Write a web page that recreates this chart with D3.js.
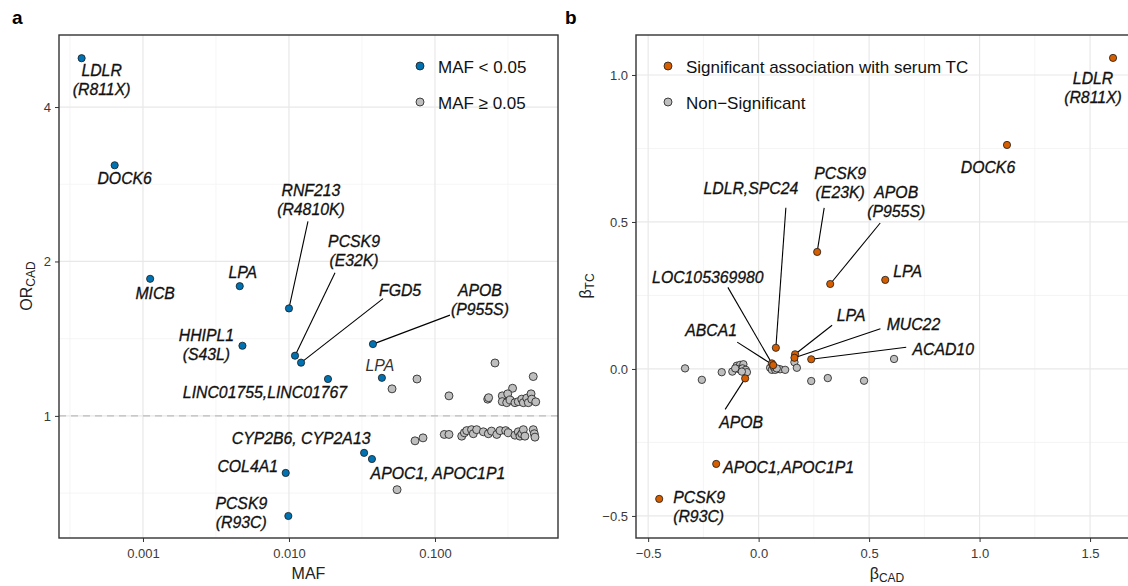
<!DOCTYPE html>
<html>
<head>
<meta charset="utf-8">
<script src="https://cdn.jsdelivr.net/npm/d3@7"></script>
<style>
  body { margin: 0; background: #fff; }
  svg { display: block; font-family: "Liberation Sans", Arial, Helvetica, sans-serif; }
  .tick line { stroke: #333; }
  .lab { font-style: italic; font-size: 15.8px; fill: #111; stroke: #111; stroke-width: 0.3px; }
</style>
</head>
<body>
<svg id="chart" width="1128" height="586"></svg>
<script>
// ---- panel a : MAF vs OR(CAD)
const labelsBlue = [["LDLR","(R811X)"],["DOCK6"],["MICB"],["LPA"],["RNF213","(R4810K)"],["HHIPL1","(S43L)"],
  ["PCSK9","(E32K)"],["FGD5"],["LINC01755,LINC01767"],["APOB","(P955S)"],["LPA"],["CYP2B6, CYP2A13"],
  ["APOC1, APOC1P1"],["COL4A1"],["PCSK9","(R93C)"]];
const mafBlue = [0.00038, 0.00064, 0.00112, 0.0046, 0.0100, 0.0048, 0.0110, 0.0121, 0.0185, 0.0376, 0.0433, 0.0327, 0.0370, 0.0095, 0.0099];
const orBlue = [4.98, 3.08, 1.85, 1.79, 1.62, 1.37, 1.31, 1.27, 1.18, 1.38, 1.186, 0.847, 0.824, 0.774, 0.638];

const mafGray = [0.0753, 0.0508, 0.1247, 0.2576, 0.471, 0.340, 0.2297, 0.233, 0.289, 0.315, 0.289, 0.310, 0.327, 0.353, 0.372,
  0.393, 0.403, 0.425, 0.436, 0.455, 0.460, 0.490,
  0.055, 0.0730, 0.0828, 0.1158, 0.1247, 0.1525, 0.159, 0.165, 0.178, 0.183, 0.193, 0.2144, 0.232, 0.244, 0.265, 0.279,
  0.305, 0.318, 0.353, 0.372, 0.382, 0.393, 0.403, 0.413, 0.471, 0.479, 0.484];
const orGray = [1.180, 1.129, 1.094, 1.268, 1.193, 1.132, 1.078, 1.085, 1.094, 1.104, 1.066, 1.061, 1.074, 1.061, 1.066,
  1.078, 1.061, 1.083, 1.061, 1.104, 1.078, 1.065,
  0.718, 0.894, 0.906, 0.920, 0.920, 0.913, 0.927, 0.936, 0.940, 0.923, 0.940, 0.931, 0.923, 0.934, 0.920, 0.936,
  0.936, 0.927, 0.917, 0.931, 0.913, 0.923, 0.940, 0.913, 0.940, 0.923, 0.909];

const mafTicks = [0.001, 0.01, 0.1], mafTickLabels = ["0.001", "0.010", "0.100"];
const mafMinor = [0.000316, 0.00316, 0.0316, 0.316];
const orTicks = [1, 2, 4], orTickLabels = ["1", "2", "4"];
const orMinor = [0.707, 1.414, 2.828];

// ---- panel b : beta CAD vs beta TC
const labelsSig = [["LDLR","(R811X)"],["DOCK6"],["LPA"],["PCSK9","(E23K)"],["APOB","(P955S)"],["LDLR,SPC24"],
  ["LOC105369980"],["ABCA1"],["LPA"],["MUC22"],["ACAD10"],["APOB"],["APOC1,APOC1P1"],["PCSK9","(R93C)"]];
const cadSig = [1.604, 1.124, 0.573, 0.265, 0.324, 0.078, 0.060, 0.066, 0.165, 0.162, 0.238, -0.061, -0.192, -0.450];
const tcSig = [1.058, 0.762, 0.303, 0.398, 0.289, 0.072, 0.019, 0.013, 0.050, 0.038, 0.033, -0.032, -0.323, -0.442];

const cadNS = [-0.333, -0.257, -0.167, -0.119, -0.099, -0.084, -0.069, -0.091, -0.073, -0.058, -0.053, -0.076, -0.106,
  0.052, 0.060, 0.075, 0.097, 0.120, 0.067, 0.082, 0.162, 0.173, 0.238, 0.313, 0.477, 0.613];
const tcNS = [0.002, -0.037, -0.011, -0.009, 0.011, 0.014, 0.016, 0.000, 0.002, -0.003, -0.011, -0.009, 0.002,
  0.004, -0.003, -0.003, -0.001, -0.003, 0.008, 0.002, 0.023, 0.004, -0.041, -0.031, -0.040, 0.034];

const cadTicks = [-0.5, 0, 0.5, 1, 1.5], cadTickLabels = ["\u22120.5", "0.0", "0.5", "1.0", "1.5"];
const cadMinor = [-0.25, 0.25, 0.75, 1.25];
const tcTicks = [-0.5, 0, 0.5, 1], tcTickLabels = ["\u22120.5", "0.0", "0.5", "1.0"];
const tcMinor = [-0.25, 0.25, 0.75];

// label placement (pixel offsets from the point, like ggrepel output)
const layoutA = [
  {dx: 20, dy: 18}, {dx: 10, dy: 19}, {dx: 5, dy: 20}, {dx: 3, dy: -8},
  {dx: 22, dy: -112, sx: 19, sy: -87}, {dx: -36, dy: -5},
  {dx: 59, dy: -109, sx: 40, sy: -83}, {dx: 99, dy: -67, sx: 82, sy: -64},
  {dx: -63, dy: 19}, {dx: 107, dy: -48, sx: 77, sy: -29}, {dx: -2, dy: -7, light: true},
  {dx: -63, dy: -9}, {dx: 66, dy: 20}, {dx: -38, dy: -1}, {dx: -47, dy: -7}
];
const layoutB = [
  {dx: -20, dy: 26}, {dx: -19, dy: 28}, {dx: 8, dy: -3, anchor: "start"},
  {dx: 23, dy: -73, sx: 7, sy: -44}, {dx: 66, dy: -86, sx: 50, sy: -61},
  {dx: -25, dy: -154, sx: 10, sy: -140}, {dx: -64, dy: -80, sx: -44, sy: -76},
  {dx: -62, dy: -29, sx: -36, sy: -23}, {dx: 56, dy: -33, sx: 37, sy: -29},
  {dx: 119, dy: -28, sx: 86, sy: -29}, {dx: 132, dy: -4, sx: 95, sy: -12},
  {dx: -4, dy: 50, sx: -20, sy: 31}, {dx: 7, dy: 9, anchor: "start"}, {dx: 14, dy: 4, anchor: "start"}
];

const BLUE = "#0072B2", ORANGE = "#D55E00", GREY = "#BEBEBE";
const svg = d3.select("#chart");

function panel(o) {
  const g = svg.append("g");
  const [x0, x1] = o.x.range(), [y0, y1] = o.y.range();
  // grid
  g.selectAll(".gxm").data(o.xMinor).join("line").attr("x1", d => o.x(d)).attr("x2", d => o.x(d))
    .attr("y1", y1).attr("y2", y0).attr("stroke", "#f0f0f0").attr("stroke-width", 0.7);
  g.selectAll(".gym").data(o.yMinor).join("line").attr("y1", d => o.y(d)).attr("y2", d => o.y(d))
    .attr("x1", x0).attr("x2", x1).attr("stroke", "#f0f0f0").attr("stroke-width", 0.7);
  g.selectAll(".gx").data(o.xTicks).join("line").attr("x1", d => o.x(d)).attr("x2", d => o.x(d))
    .attr("y1", y1).attr("y2", y0).attr("stroke", "#e8e8e8").attr("stroke-width", 1.2);
  g.selectAll(".gy").data(o.yTicks).join("line").attr("y1", d => o.y(d)).attr("y2", d => o.y(d))
    .attr("x1", x0).attr("x2", x1).attr("stroke", "#e8e8e8").attr("stroke-width", 1.2);
  if (o.hline != null) {
    g.append("line").attr("x1", x0).attr("x2", x1).attr("y1", o.y(o.hline)).attr("y2", o.y(o.hline))
      .attr("stroke", "#bdbdbd").attr("stroke-width", 1.3).attr("stroke-dasharray", "7,5");
  }
  // axes
  const ax = g.append("g").attr("transform", `translate(0,${y0})`)
    .call(d3.axisBottom(o.x).tickValues(o.xTicks).tickFormat((d, i) => o.xLabels[i]).tickSize(4).tickPadding(4));
  const ay = g.append("g").attr("transform", `translate(${x0},0)`)
    .call(d3.axisLeft(o.y).tickValues(o.yTicks).tickFormat((d, i) => o.yLabels[i]).tickSize(4).tickPadding(4));
  ax.select(".domain").remove(); ay.select(".domain").remove();
  ax.selectAll("text").attr("dy", "0.95em");
  [ax, ay].forEach(a => a.attr("font-family", null).attr("font-size", 13)
    .selectAll(".tick text").attr("fill", "#3a3a3a"));
  return g;
}

function drawPoints(g, x, y, xs, ys, fill, r) {
  g.append("g").selectAll("circle").data(xs).join("circle")
    .attr("cx", d => x(d)).attr("cy", (d, i) => y(ys[i])).attr("r", r)
    .attr("fill", fill).attr("stroke", "#1a1a1a").attr("stroke-width", 0.8);
}

function drawLabels(g, x, y, xs, ys, labels, layout) {
  const seg = g.append("g"), txt = g.append("g");
  labels.forEach((lines, i) => {
    const px = x(xs[i]), py = y(ys[i]), L = layout[i];
    if (L.sx != null) {
      seg.append("line").attr("x1", px + L.sx).attr("y1", py + L.sy).attr("x2", px).attr("y2", py)
        .attr("stroke", "#000").attr("stroke-width", 1.1);
    }
    const t = txt.append("text").attr("class", "lab").attr("text-anchor", L.anchor || "middle")
      .attr("x", px + L.dx).attr("y", py + L.dy);
    if (L.light) t.style("fill", "#333").style("stroke", "none");
    lines.forEach((s, k) => t.append("tspan").attr("x", px + L.dx).attr("dy", k ? 19 : 0).text(s));
  });
  return seg;
}

function legend(items, lx, ly) {
  items.forEach((it, i) => {
    svg.append("circle").attr("cx", lx).attr("cy", ly + i * 36).attr("r", 4)
      .attr("fill", it.c).attr("stroke", "#1a1a1a").attr("stroke-width", 0.8);
    svg.append("text").attr("x", lx + 18).attr("y", ly + 6.5 + i * 36).attr("font-size", 17).attr("fill", "#111").text(it.t);
  });
}

// ---- panel a
const xa = d3.scaleLog().domain([0.000266, 0.696]).range([59, 558]);
const ya = d3.scaleLog().base(2).domain([0.578, 5.527]).range([538, 35]);
const ga = panel({x: xa, y: ya, xTicks: mafTicks, xLabels: mafTickLabels, xMinor: mafMinor,
  yTicks: orTicks, yLabels: orTickLabels, yMinor: orMinor, hline: 1});
drawLabels(ga, xa, ya, mafBlue, orBlue, labelsBlue, layoutA);
drawPoints(ga, xa, ya, mafGray, orGray, GREY, 4);
drawPoints(ga, xa, ya, mafBlue, orBlue, BLUE, 3.6);
ga.append("rect").attr("x", 59).attr("y", 35).attr("width", 499).attr("height", 503)
  .attr("fill", "none").attr("stroke", "#333").attr("stroke-width", 1.4);
legend([{c: BLUE, t: "MAF < 0.05"}, {c: GREY, t: "MAF \u2265 0.05"}], 420, 66);

// ---- panel b
const xb = d3.scaleLinear().domain([-0.555, 1.726]).range([636, 1140]);
const yb = d3.scaleLinear().domain([-0.575, 1.136]).range([538, 35]);
const gb = panel({x: xb, y: yb, xTicks: cadTicks, xLabels: cadTickLabels, xMinor: cadMinor,
  yTicks: tcTicks, yLabels: tcTickLabels, yMinor: tcMinor, hline: null});
drawLabels(gb, xb, yb, cadSig, tcSig, labelsSig, layoutB);
drawPoints(gb, xb, yb, cadNS, tcNS, GREY, 3.7);
drawPoints(gb, xb, yb, cadSig, tcSig, ORANGE, 3.6);
gb.append("rect").attr("x", 636).attr("y", 35).attr("width", 504).attr("height", 503)
  .attr("fill", "none").attr("stroke", "#333").attr("stroke-width", 1.4);
legend([{c: ORANGE, t: "Significant association with serum TC"}, {c: GREY, t: "Non\u2212Significant"}], 668, 66);

// ---- titles
svg.append("text").attr("x", 12).attr("y", 24).attr("font-size", 19).attr("font-weight", "bold").text("a");
svg.append("text").attr("x", 565).attr("y", 24).attr("font-size", 19).attr("font-weight", "bold").text("b");

svg.append("text").attr("x", 308.5).attr("y", 579).attr("text-anchor", "middle").attr("font-size", 16).attr("fill", "#222").text("MAF");
const xtb = svg.append("text").attr("x", 887).attr("y", 579).attr("text-anchor", "middle").attr("font-size", 16).attr("fill", "#222");
xtb.append("tspan").text("\u03b2");
xtb.append("tspan").attr("font-size", 12).attr("dy", 3).text("CAD");

const yta = svg.append("text").attr("transform", "translate(32,286) rotate(-90)").attr("text-anchor", "middle")
  .attr("font-size", 16).attr("fill", "#222");
yta.append("tspan").text("OR");
yta.append("tspan").attr("font-size", 12).attr("dy", 3).text("CAD");
const ytb = svg.append("text").attr("transform", "translate(591,286) rotate(-90)").attr("text-anchor", "middle")
  .attr("font-size", 16).attr("fill", "#222");
ytb.append("tspan").text("\u03b2");
ytb.append("tspan").attr("font-size", 12).attr("dy", 3).text("TC");
</script>
</body>
</html>
